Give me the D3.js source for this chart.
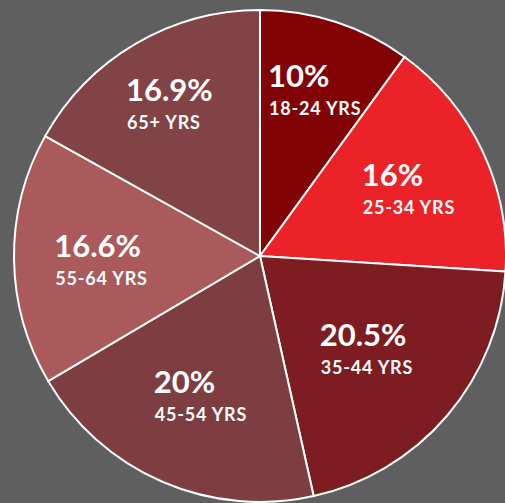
<!DOCTYPE html>
<html lang="en">
<head>
    <meta charset="UTF-8">
    <title>Age pie</title>
    <style>
        html, body { margin: 0; padding: 0; background: #5f5f5f; }
        #chart-wrapper { width: 505px; height: 503px; }
    </style>
</head>
<body>
    <div id="chart-wrapper"></div>

    <script src="https://d3js.org/d3.v7.min.js"></script>
    <script>
        const ageGroups = ['18-24 YRS', '25-34 YRS', '35-44 YRS', '45-54 YRS', '55-64 YRS', '65+ YRS']
        const shares = [10, 16, 20.5, 20, 16.6, 16.9]
        const shareLabels = ['10%', '16%', '20.5%', '20%', '16.6%', '16.9%']
        const colors = ['#810306', '#ec2229', '#7e1d21', '#7e3e41', '#ab5a5b', '#824346']

        const width = 505
        const height = 503
        const cx = 260
        const cy = 256
        const radius = 246
        // distance of each label block from the centre (layout only)
        const labelRadius = [177, 164, 140, 150, 159, 179]

        const data = ageGroups.map((g, i) => ({ group: g, value: shares[i], label: shareLabels[i], color: colors[i] }))

        const svg = d3.select('#chart-wrapper')
            .append('svg')
            .attr('width', width)
            .attr('height', height)

        svg.append('rect')
            .attr('width', width)
            .attr('height', height)
            .attr('fill', '#5f5f5f')

        const g = svg.append('g')
            .attr('transform', `translate(${ cx }, ${ cy })`)

        const pie = d3.pie()
            .value(d => d.value)
            .sort(null)

        const arc = d3.arc()
            .innerRadius(0)
            .outerRadius(radius)

        const arcs = pie(data)

        g.selectAll('path')
            .data(arcs)
            .enter()
            .append('path')
            .attr('d', arc)
            .attr('fill', d => d.data.color)
            .attr('stroke', '#ffffff')
            .attr('stroke-width', 2)

        const labels = g.selectAll('g.label')
            .data(arcs)
            .enter()
            .append('g')
            .attr('class', 'label')

        labels.append('text')
            .attr('x', 0)
            .attr('y', 0)
            .attr('fill', '#ffffff')
            .attr('font-family', 'Lato, "Open Sans", sans-serif')
            .attr('font-weight', 'bold')
            .attr('font-size', 31)
            .text(d => d.data.label)

        labels.append('text')
            .attr('x', 1)
            .attr('y', 28)
            .attr('fill', '#ffffff')
            .attr('font-family', 'Lato, "Open Sans", sans-serif')
            .attr('font-weight', 'bold')
            .attr('font-size', 18)
            .attr('letter-spacing', 0.8)
            .text(d => d.data.group)

        // centre each label block on its slice, left aligned lines
        labels.each(function (d, i) {
            const box = this.getBBox()
            const [x, y] = d3.arc().innerRadius(labelRadius[i]).outerRadius(labelRadius[i]).centroid(d)
            d3.select(this).attr('transform',
                `translate(${ x - box.x - box.width / 2 }, ${ y - box.y - box.height / 2 })`)
        })
    </script>
</body>
</html>
